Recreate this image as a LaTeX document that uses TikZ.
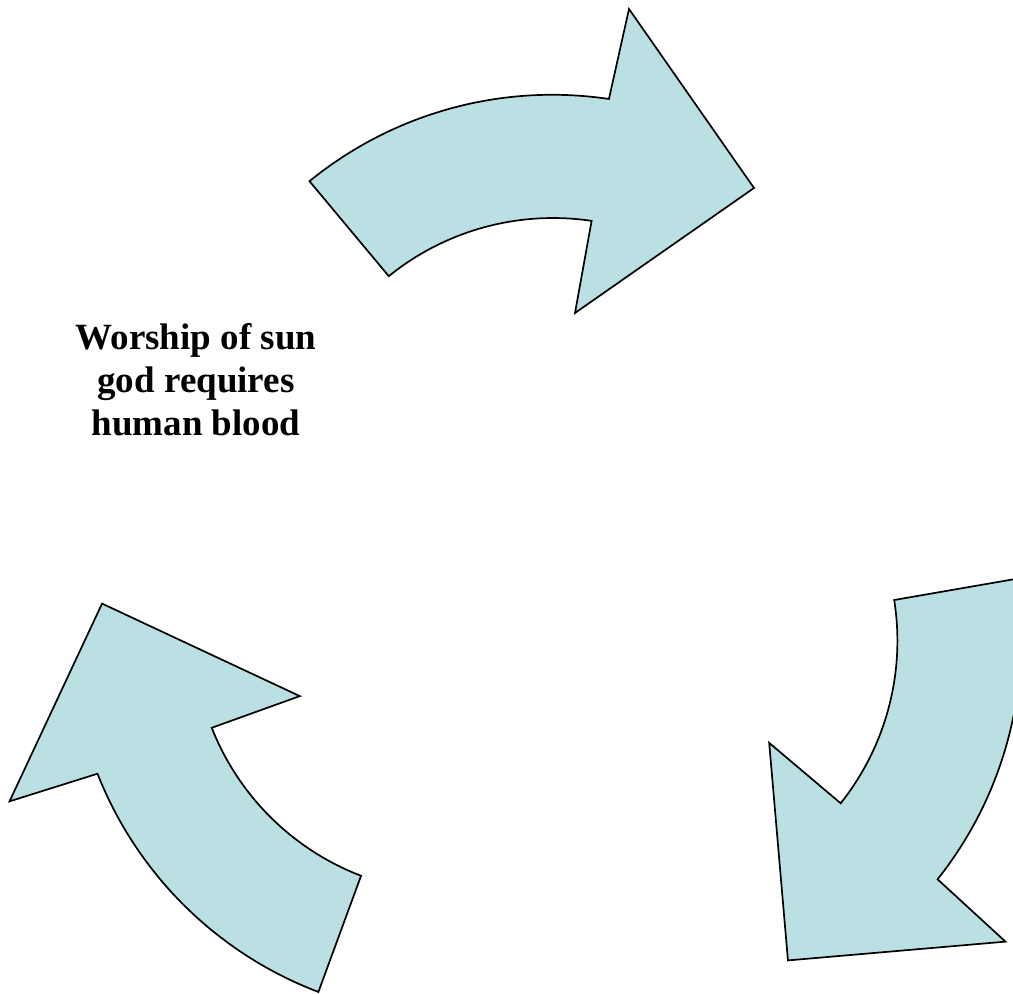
\documentclass[tikz,border=0pt]{standalone}
\usepackage{fontspec}
\setmainfont{Liberation Serif}
\usetikzlibrary{positioning}
\definecolor{cyclefill}{HTML}{BBE0E3}

\begin{document}
\begin{tikzpicture}[x=1pt,y=1pt,cyc/.style={fill=cyclefill,draw=black,line width=1.7pt,line join=miter},
    lbl/.style={font=\bfseries\fontsize{37}{43}\selectfont,align=center,inner sep=0pt}]
  \useasboundingbox (0,0) rectangle (1013,994);
  \clip (0,0) rectangle (1013,994);
  \coordinate (hub) at (548,410);
  \foreach \rot in {0,-120,-240}{
    \begin{scope}[rotate around={\rot:(548,410)}]
      \draw[cyc] (309.5,812.8) arc[start angle=129.2,end angle=81.5,radius=384]
        -- (629,985) -- (754,806) -- (575,681)
        -- (591.6,773.1) arc[start angle=81.5,end angle=129,radius=261] -- cycle;
    \end{scope}
  }
  \node[lbl] (belief) at (196,614) {Worship of sun\\god requires\\human blood};
\end{tikzpicture}
\end{document}
